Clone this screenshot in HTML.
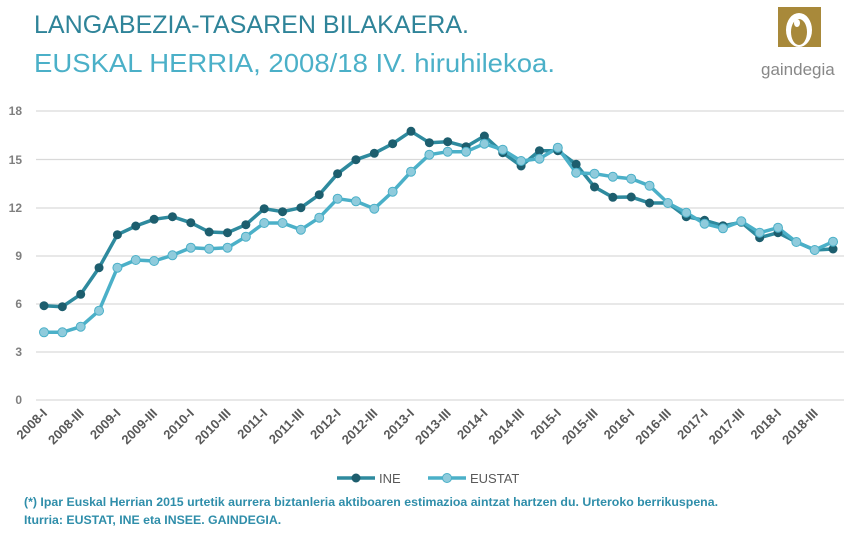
<!DOCTYPE html>
<html><head><meta charset="utf-8"><style>
body{margin:0;width:856px;height:534px;background:#fff;overflow:hidden;font-family:"Liberation Sans",sans-serif}
</style></head><body>
<svg width="856" height="534" xmlns="http://www.w3.org/2000/svg" font-family="Liberation Sans, sans-serif">
<text x="34" y="33" font-size="25" fill="#2f8499" textLength="435" lengthAdjust="spacingAndGlyphs">LANGABEZIA-TASAREN BILAKAERA.</text>
<text x="34" y="72" font-size="26" fill="#4bb0c8" textLength="521" lengthAdjust="spacingAndGlyphs">EUSKAL HERRIA, 2008/18 IV. hiruhilekoa.</text>
<rect x="778" y="7" width="43" height="40" fill="#a8893a"/>
<ellipse cx="799" cy="30" rx="13" ry="17" fill="#fff"/>
<ellipse cx="799" cy="32" rx="8" ry="13" fill="#a8893a"/>
<ellipse cx="797" cy="23" rx="3" ry="4" fill="#fff"/>
<text x="761" y="75" font-size="17" fill="#888">gaindegia</text>
<g stroke="#d9d9d9" stroke-width="1.2">
<line x1="36" x2="844" y1="111" y2="111"/><line x1="36" x2="844" y1="159.5" y2="159.5"/>
<line x1="36" x2="844" y1="208" y2="208"/><line x1="36" x2="844" y1="256" y2="256"/>
<line x1="36" x2="844" y1="304" y2="304"/><line x1="36" x2="844" y1="352" y2="352"/>
<line x1="36" x2="844" y1="400" y2="400"/></g>
<g font-size="12" fill="#7f7f7f" font-weight="bold" text-anchor="end">
<text x="22" y="115">18</text><text x="22" y="164">15</text><text x="22" y="212">12</text>
<text x="22" y="260">9</text><text x="22" y="308">6</text><text x="22" y="356">3</text><text x="22" y="404">0</text></g>
<g id="lbl" font-size="13" fill="#595959" font-weight="bold" text-anchor="end"></g>
<polyline id="ine" fill="none" stroke="#2e8a9e" stroke-width="3.5" stroke-linejoin="round"/>
<polyline id="eus" fill="none" stroke="#4bb0c8" stroke-width="3.5" stroke-linejoin="round"/>
<g id="mk"></g>
<line x1="337" x2="375" y1="478" y2="478" stroke="#2e8a9e" stroke-width="3.5"/>
<circle cx="356" cy="478" r="4.5" fill="#1d5e6e"/>
<text x="379" y="483" font-size="13" fill="#595959">INE</text>
<line x1="428" x2="466" y1="478" y2="478" stroke="#4bb0c8" stroke-width="3.5"/>
<circle cx="447" cy="478" r="4.5" fill="#8fcbdc" stroke="#4bb0c8"/>
<text x="470" y="483" font-size="13" fill="#595959">EUSTAT</text>
<text x="24" y="506" font-size="12.3" font-weight="bold" fill="#2f8eaa" textLength="694" lengthAdjust="spacingAndGlyphs">(*) Ipar Euskal Herrian 2015 urtetik aurrera biztanleria aktiboaren estimazioa aintzat hartzen du. Urteroko berrikuspena.</text>
<text x="24" y="524" font-size="12.3" font-weight="bold" fill="#2f8eaa">Iturria: EUSTAT, INE eta INSEE. GAINDEGIA.</text>
</svg>
<script>
var ine=[305.7,306.7,294.3,267.7,234.7,226,219.3,216.7,222.7,232,232.7,224.7,208.7,211.7,207.7,194.7,173.7,159.7,153.3,143.7,131.3,142.7,141.7,146.7,136,152.7,166,150.7,150.7,164.3,187,197.3,197,203,203,216.7,220.3,225.7,222.3,237.7,232.7,242,250,249];
var eus=[332.3,332.3,326.7,310.7,267.7,260,261,255.3,247.7,248.7,247.7,236.7,223,223,229.7,217.7,198.7,201.3,208.7,191.7,171.7,154.7,151.7,151.7,143.7,149.7,161,158.7,147.7,172.7,173.7,176.7,178.7,185.7,203,212.7,223.7,228.3,221.3,232.7,227.7,242,250,241.7];
function X(i){return 44+i*18.35;}
var ns="http://www.w3.org/2000/svg";
document.getElementById('ine').setAttribute('points',ine.map(function(y,i){return X(i)+','+y}).join(' '));
document.getElementById('eus').setAttribute('points',eus.map(function(y,i){return X(i)+','+y}).join(' '));
var mk=document.getElementById('mk');
function c(x,y,f,s){var e=document.createElementNS(ns,'circle');e.setAttribute('cx',x);e.setAttribute('cy',y);e.setAttribute('r',4.5);e.setAttribute('fill',f);if(s){e.setAttribute('stroke',s);}mk.appendChild(e);}
ine.forEach(function(y,i){c(X(i),y,'#1d5e6e');});
eus.forEach(function(y,i){c(X(i),y,'#8fcbdc','#4bb0c8');});
var lbl=document.getElementById('lbl');
for(var i=0;i<44;i+=2){var yr=2008+Math.floor(i/4);var q=(i%4==0)?'I':'III';
var t=document.createElementNS(ns,'text');var x=X(i)+4,y=414;
t.setAttribute('x',x);t.setAttribute('y',y);t.setAttribute('transform','rotate(-45 '+x+' '+y+')');
t.textContent=yr+'-'+q;lbl.appendChild(t);}
</script>
</body></html>
